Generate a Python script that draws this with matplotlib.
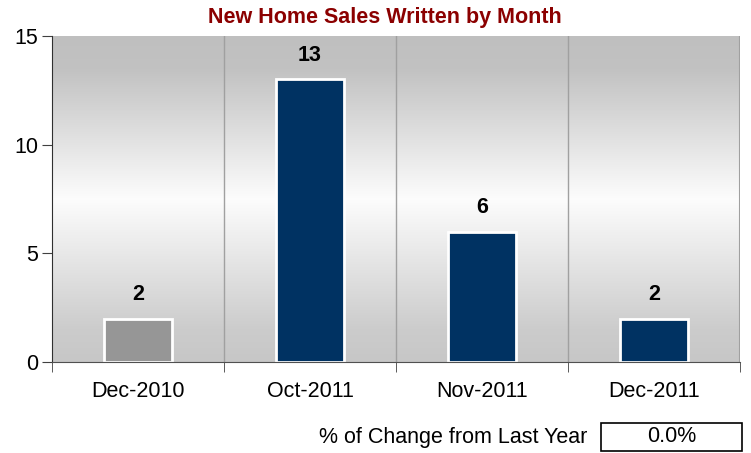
import numpy as np
import matplotlib.pyplot as plt

plt.rcParams['font.family'] = ['Liberation Sans', 'DejaVu Sans']

months = ['Dec-2010', 'Oct-2011', 'Nov-2011', 'Dec-2011']
sales = [2, 13, 6, 2]
bar_colors = ['#969696', '#003262', '#003262', '#003262']
pct_change = '0.0%'

fig = plt.figure(figsize=(7.51, 4.53), dpi=100)
ax = fig.add_axes([52 / 751, 1 - 362 / 453, 688 / 751, 326 / 453])

x = np.arange(len(months))
ax.set_xlim(-0.5, len(months) - 0.5)
ax.set_ylim(0, 15)

# vertical gradient background: grey at top and bottom, near white in the middle
t = np.linspace(0, 1, 256)
shade = np.interp(t, [0, 0.1, 0.5, 0.9, 1], [0.75, 0.76, 0.99, 0.8, 0.78])
grad = np.stack([shade] * 3, axis=-1)[:, None, :].repeat(2, axis=1)
ax.imshow(grad, extent=(-0.5, len(months) - 0.5, 0, 15), aspect='auto',
          origin='upper', zorder=0)

# separators between categories
for b in x[:-1] + 0.5:
    ax.axvline(b, color='#a0a0a0', lw=1, zorder=1)
ax.axvline(len(months) - 0.5, color='#a0a0a0', lw=1.5, zorder=1)

ax.bar(x, sales, width=0.4, color=bar_colors, edgecolor='white', linewidth=2, zorder=2)
for xi, v in zip(x, sales):
    ax.text(xi, v + 1.1, str(v), ha='center', va='center', fontsize=15.5,
            fontweight='bold', zorder=3)

ax.set_yticks([0, 5, 10, 15])
ax.set_xticks(x)
ax.set_xticklabels(months)
ax.set_xticks(np.arange(len(months) + 1) - 0.5, minor=True)
ax.tick_params(axis='x', which='major', length=0, labelsize=15.5, pad=14)
ax.tick_params(axis='x', which='minor', length=7, direction='out', color='#404040')
ax.tick_params(axis='y', length=7, direction='out', labelsize=15.5, color='#404040', pad=3)

for s in ['top', 'right']:
    ax.spines[s].set_visible(False)
ax.spines['left'].set_color('#303030')
ax.spines['bottom'].set_color('#505050')

fig.text(385 / 751, 1 - 17 / 453, 'New Home Sales Written by Month', ha='center',
         va='center', fontsize=15.5, fontweight='bold', color='#8b0000')

fig.text(587 / 751, 1 - 437 / 453, '% of Change from Last Year', ha='right',
         va='center', fontsize=15.5)
box = plt.Rectangle((601 / 751, 1 - 451 / 453), 141 / 751, 28 / 453,
                    transform=fig.transFigure, facecolor='white', edgecolor='black', lw=1.2)
fig.patches.append(box)
fig.text(672 / 751, 1 - 437 / 453, pct_change, ha='center', va='center', fontsize=15.5)

fig.savefig('out.png', dpi=100)
